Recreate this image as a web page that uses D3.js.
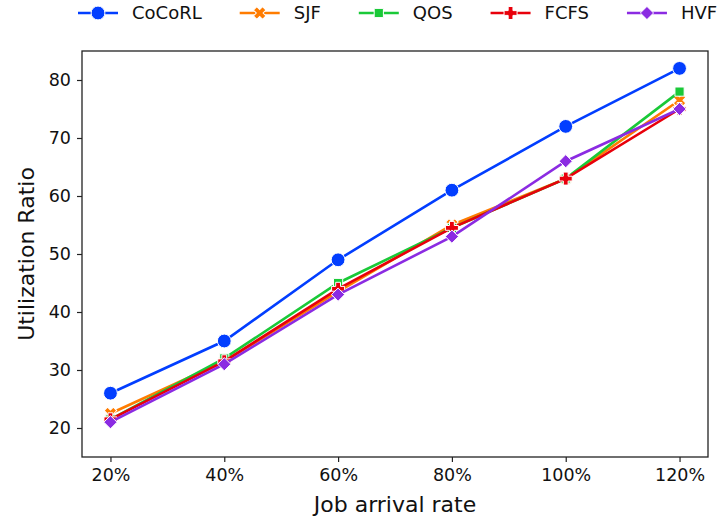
<!DOCTYPE html>
<html>
<head>
<meta charset="utf-8">
<script src="https://cdn.jsdelivr.net/npm/d3@7"></script>
<style>
  body { margin: 0; background: white; }
  text { font-family: "DejaVu Sans", sans-serif; fill: #111; }
</style>
</head>
<body>
<svg id="chart" width="717" height="520"></svg>
<script>
const rates = ["20%", "40%", "60%", "80%", "100%", "120%"]
const cocorl = [26, 35, 49, 61, 72, 82]
const sjf = [22.5, 31.5, 43.5, 55, 63, 76.5]
const qos = [21.5, 32, 45, 54.5, 63, 78]
const fcfs = [21.5, 31.5, 44, 54.5, 63, 75]
const hvf = [21, 31, 43, 53, 66, 75]
const yTicks = [20, 30, 40, 50, 60, 70, 80]

const series = [
  { name: "CoCoRL", values: cocorl, color: "#023eff", marker: "circle" },
  { name: "SJF", values: sjf, color: "#ff7c00", marker: "x" },
  { name: "QOS", values: qos, color: "#1ac938", marker: "square" },
  { name: "FCFS", values: fcfs, color: "#e8000b", marker: "plus" },
  { name: "HVF", values: hvf, color: "#8b2be2", marker: "diamond" }
]

const margin = { left: 82, right: 9, top: 51, bottom: 63 }
const width = 717, height = 520
const svg = d3.select("#chart")

const x = d3.scaleLinear()
  .domain([-0.25, rates.length - 0.75])
  .range([margin.left, width - margin.right])
const y = d3.scaleLinear()
  .domain([15, 85])
  .range([height - margin.bottom, margin.top])

// marker path builders, centred on 0,0
const markerPath = (type) => {
  if (type === "circle") return d3.symbol(d3.symbolCircle, 150)()
  if (type === "square") {
    const s = 4.6
    return `M${-s},${-s}H${s}V${s}H${-s}Z`
  }
  if (type === "diamond") {
    const r = 6.6
    return `M0,${-r}L${r},0L0,${r}L${-r},0Z`
  }
  // plus shape, X is the same rotated
  const a = 6.5, b = 2.4
  return `M${-b},${-a}H${b}V${-b}H${a}V${b}H${b}V${a}H${-b}V${b}H${-a}V${-b}H${-b}Z`
}
const markerRotate = (type) => type === "x" ? 45 : 0

// axes
const xAxis = svg.append("g")
  .attr("transform", `translate(0,${height - margin.bottom})`)
  .call(d3.axisBottom(x).tickValues(d3.range(rates.length)).tickFormat(i => rates[i]).tickSize(5).tickPadding(7))
const yAxis = svg.append("g")
  .attr("transform", `translate(${margin.left},0)`)
  .call(d3.axisLeft(y).tickValues(yTicks).tickSize(5).tickPadding(6))

;[xAxis, yAxis].forEach(g => {
  g.select(".domain").remove()
  g.selectAll(".tick line").attr("stroke", "#222").attr("stroke-width", 1.2)
  g.selectAll(".tick text")
    .style("font-family", "DejaVu Sans, sans-serif")
    .style("font-size", "17.5px")
    .attr("fill", "#111")
})

// frame
svg.append("rect")
  .attr("x", margin.left)
  .attr("y", margin.top)
  .attr("width", width - margin.right - margin.left)
  .attr("height", height - margin.bottom - margin.top)
  .attr("fill", "none")
  .attr("stroke", "#222")
  .attr("stroke-width", 1.3)

const line = d3.line()
  .x((d, i) => x(i))
  .y(d => y(d))

const plot = svg.append("g")
series.forEach(s => {
  const g = plot.append("g")
  g.append("path")
    .attr("d", line(s.values))
    .attr("fill", "none")
    .attr("stroke", s.color)
    .attr("stroke-width", 2.6)
  g.selectAll("path.mk")
    .data(s.values)
    .join("path")
    .attr("class", "mk")
    .attr("d", markerPath(s.marker))
    .attr("transform", (d, i) => `translate(${x(i)},${y(d)}) rotate(${markerRotate(s.marker)})`)
    .attr("fill", s.color)
    .attr("stroke", "white")
    .attr("stroke-width", 1)
})

// axis labels
svg.append("text")
  .attr("x", (margin.left + width - margin.right) / 2)
  .attr("y", 512)
  .attr("text-anchor", "middle")
  .style("font-size", "22px")
  .text("Job arrival rate")
svg.append("text")
  .attr("transform", `translate(34,${(margin.top + height - margin.bottom) / 2}) rotate(-90)`)
  .attr("text-anchor", "middle")
  .style("font-size", "22px")
  .text("Utilization Ratio")

// legend across the top
const legend = svg.append("g").attr("transform", "translate(78,13)")
let lx = 0
series.forEach(s => {
  const item = legend.append("g").attr("transform", `translate(${lx},0)`)
  item.append("line")
    .attr("x1", 0).attr("x2", 40)
    .attr("stroke", s.color)
    .attr("stroke-width", 2.6)
  item.append("path")
    .attr("d", markerPath(s.marker))
    .attr("transform", `translate(20,0) rotate(${markerRotate(s.marker)})`)
    .attr("fill", s.color)
    .attr("stroke", "white")
    .attr("stroke-width", 1)
  const t = item.append("text")
    .attr("x", 54)
    .attr("dy", "0.35em")
    .style("font-size", "18px")
    .text(s.name)
  lx += 54 + t.node().getComputedTextLength() + 38
})
</script>
</body>
</html>
